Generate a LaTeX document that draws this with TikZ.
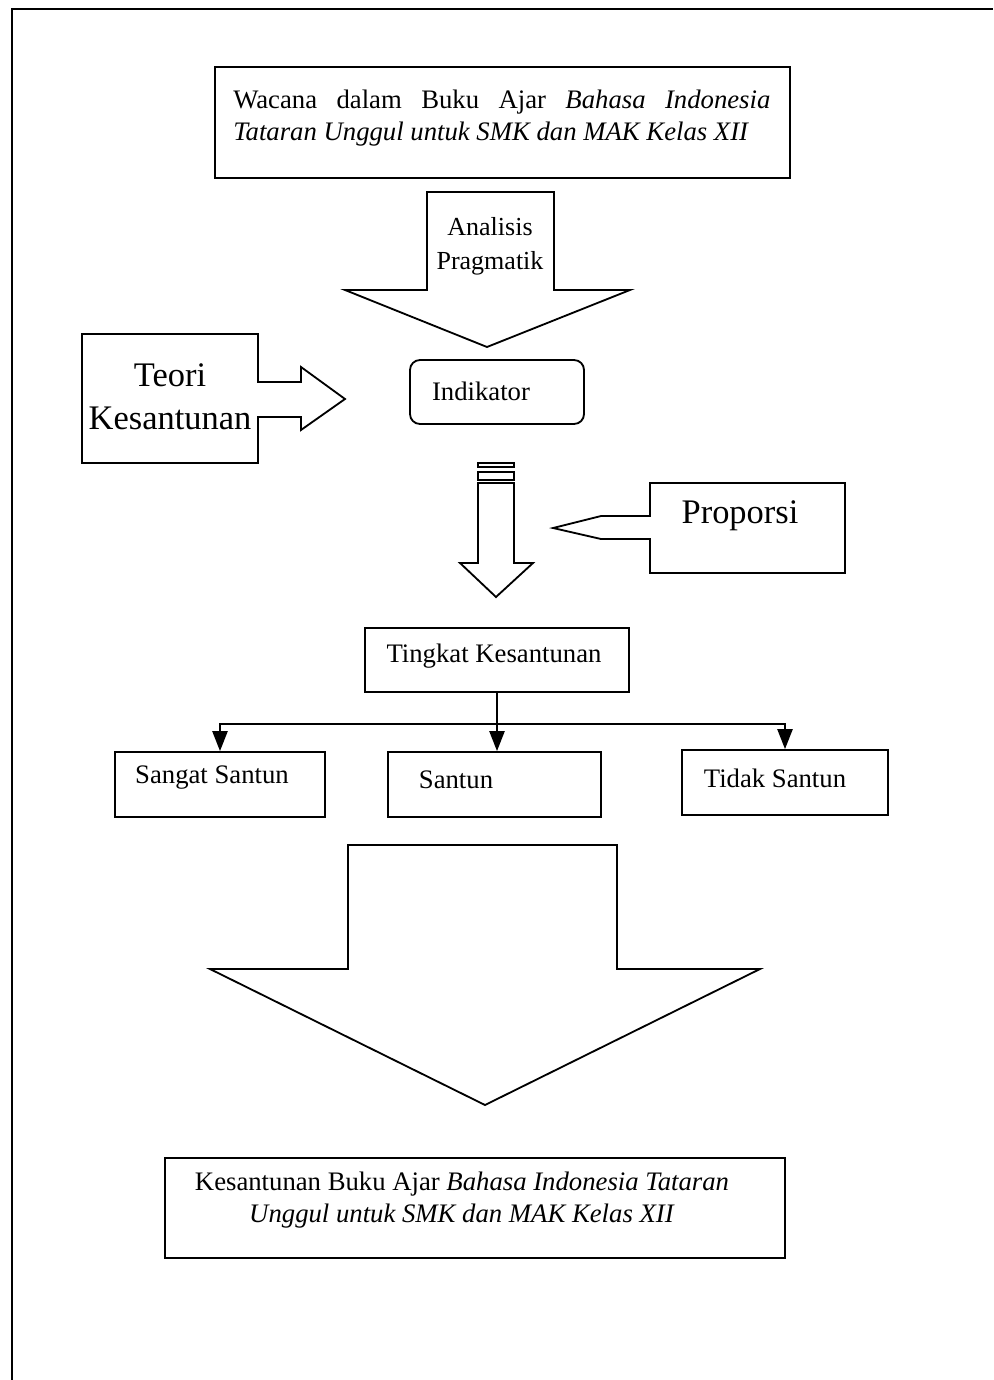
\documentclass[tikz,border=0pt]{standalone}
\usepackage{fontspec}
\setmainfont{Liberation Serif}
\usetikzlibrary{arrows.meta}

\tikzset{
  box/.style={draw, line width=1.3pt, inner sep=0pt},
  shp/.style={draw, line width=1.3pt, line join=miter},
  txt/.style={inner sep=0pt, font=\fontsize{19}{22.5}\selectfont},
  bigtxt/.style={inner sep=0pt, align=center, font=\fontsize{24.5}{30.5}\selectfont},
  arr/.style={line width=1.3pt, -{Triangle[length=0.5cm,width=0.38cm]}}
}

\begin{document}
\begin{tikzpicture}[x=0.025cm, y=-0.025cm]
  \useasboundingbox (0,0) rectangle (993,1380);
  \draw [line width=1.6pt] (12,1380) -- (12,9) -- (993,9);

  % top box
  \node [box, minimum width=14.375cm, minimum height=2.775cm] (wacana) at (502.5,122.5) {};
  \node [txt, anchor=west, text width=13.425cm, align=justify] (wacana-t) at (233,118)
    {Wacana dalam Buku Ajar \textit{Bahasa Indonesia}\linebreak\textit{Tataran Unggul untuk SMK dan MAK Kelas XII}};

  % big arrow with analisis
  \draw [shp] (427,192) -- (554,192) -- (554,290) -- (630,290) -- (487,347) -- (345,290) -- (427,290) -- cycle;
  \node [txt, align=center, font=\fontsize{18.5}{24}\selectfont] (analisis) at (490,246) {Analisis\\Pragmatik};

  % teori kesantunan
  \draw [shp] (82,334) -- (258,334) -- (258,382) -- (301,382) -- (301,367) -- (345,399)
    -- (301,430) -- (301,417) -- (258,417) -- (258,463) -- (82,463) -- cycle;
  \node [bigtxt] (teori) at (170,397) {Teori\\Kesantunan};

  % indikator
  \node [box, rounded corners=0.25cm, minimum width=4.35cm, minimum height=1.6cm] (indikator) at (497,392) {};
  \node [txt] (indikator-t) at (481,391) {Indikator};

  % thin arrow
  \draw [shp] (478,463) rectangle (514,467);
  \draw [shp] (478,472) rectangle (514,480);
  \draw [shp] (478,483) -- (514,483) -- (514,563) -- (533,563) -- (496,597) -- (460,563) -- (478,563) -- cycle;

  % proporsi
  \draw [shp] (650,483) -- (845,483) -- (845,573) -- (650,573) -- (650,539) -- (601,539)
    -- (553,528) -- (601,516) -- (650,516) -- cycle;
  \node [bigtxt] (proporsi) at (740,516) {Proporsi};

  % tingkat kesantunan
  \node [box, minimum width=6.6cm, minimum height=1.6cm] (tingkat) at (497,660) {};
  \node [txt] (tingkat-t) at (494,656) {Tingkat Kesantunan};

  \node [box, minimum width=5.25cm, minimum height=1.625cm] (sangat) at (220,784.5) {};
  \node [txt] (sangat-t) at (212,778) {Sangat Santun};
  \node [box, minimum width=5.325cm, minimum height=1.625cm] (santun) at (494.5,784.5) {};
  \node [txt] (santun-t) at (456,780) {Santun};
  \node [box, minimum width=5.15cm, minimum height=1.625cm] (tidak) at (785,782.5) {};
  \node [txt] (tidak-t) at (775,778) {Tidak Santun};

  \coordinate (bar) at (497,724);
  \draw [arr] (tingkat.south) -- (tingkat.south |- santun.north);
  \draw [arr] (bar) -| (sangat);
  \draw [arr] (bar) -| (tidak);

  % big arrow
  \draw [shp] (348,845) -- (617,845) -- (617,969) -- (760,969) -- (485,1105) -- (210,969) -- (348,969) -- cycle;

  % result box
  \node [box, minimum width=15.5cm, minimum height=2.5cm] (hasil) at (475,1208) {};
  \node [txt, align=center] (hasil-t) at (462,1200)
    {Kesantunan Buku Ajar \textit{Bahasa Indonesia Tataran}\\\textit{Unggul untuk SMK dan MAK Kelas XII}};
\end{tikzpicture}
\end{document}
